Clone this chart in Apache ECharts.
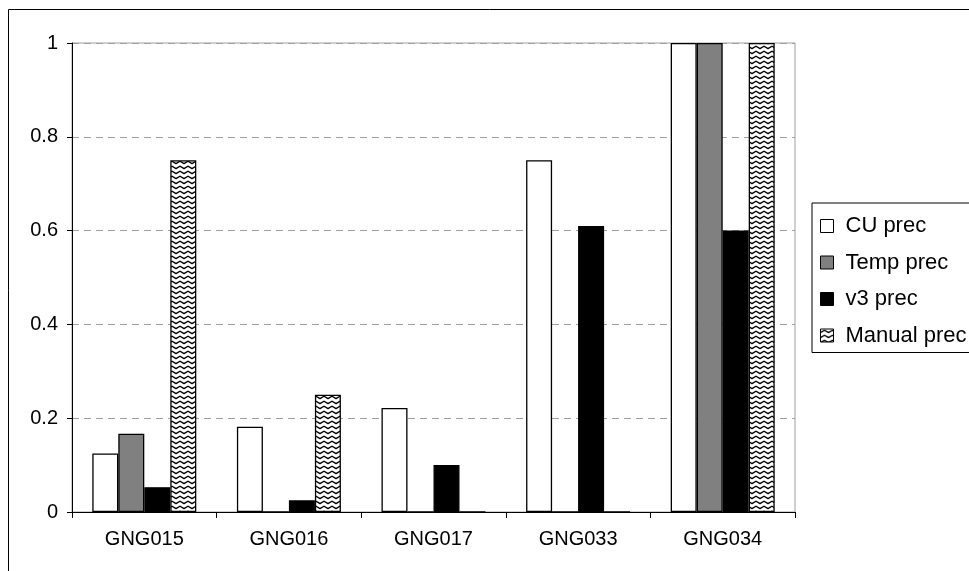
<!DOCTYPE html>
<html>
<head>
<meta charset="utf-8">
<script src="https://cdn.jsdelivr.net/npm/echarts@6/dist/echarts.min.js"></script>
<style>
  html, body { margin: 0; padding: 0; background: #fff; }
  #chart { width: 969px; height: 571px; }
</style>
</head>
<body>
<div id="chart"></div>
<script>
// Precision per gene set, four methods
const categories = ['GNG015', 'GNG016', 'GNG017', 'GNG033', 'GNG034'];
const cuPrec     = [0.125, 0.182, 0.222, 0.75, 1];
const tempPrec   = [0.167, 0, 0, 0, 1];
const v3Prec     = [0.053, 0.025, 0.1, 0.61, 0.6];
const manualPrec = [0.75, 0.25, 0, 0, 1];
const seriesNames = ['CU prec', 'Temp prec', 'v3 prec', 'Manual prec'];
const yTicks = [0, 0.2, 0.4, 0.6, 0.8, 1];

// Zigzag hatch tile for the manual series
function zigzagTile() {
  const c = document.createElement('canvas');
  c.width = 8; c.height = 5;
  const g = c.getContext('2d');
  g.fillStyle = '#fff';
  g.fillRect(0, 0, 8, 5);
  g.strokeStyle = '#000';
  g.lineWidth = 1.3;
  g.beginPath();
  g.moveTo(-1, 4.2);
  g.lineTo(0, 3.6);
  g.lineTo(4, 1.2);
  g.lineTo(8, 3.6);
  g.lineTo(9, 4.2);
  g.stroke();
  return c;
}
const hatch = { image: zigzagTile(), repeat: 'repeat' };

const fills = ['#ffffff', '#808080', '#000000', hatch];
const values = [cuPrec, tempPrec, v3Prec, manualPrec];

const chart = echarts.init(document.getElementById('chart'), null, { renderer: 'canvas' });

chart.setOption({
  animation: false,
  backgroundColor: '#fff',
  textStyle: { fontFamily: 'Liberation Sans, Arial, sans-serif', color: '#000' },
  graphic: [{
    type: 'rect',
    shape: { x: 8.5, y: 9.5, width: 1000, height: 600 },
    style: { fill: 'none', stroke: '#000', lineWidth: 1 },
    silent: true
  }],
  grid: {
    left: 72, right: 174, top: 43, bottom: 59,
    show: true, borderColor: '#a0a0a0', borderWidth: 1, backgroundColor: 'transparent'
  },
  legend: {
    orient: 'vertical',
    left: 812, top: 203,
    padding: [12, 20, 6, 8],
    itemGap: 14.5,
    itemWidth: 13, itemHeight: 13,
    icon: 'rect',
    borderColor: '#000', borderWidth: 1,
    backgroundColor: '#fff',
    data: seriesNames,
    itemStyle: { borderColor: '#000', borderWidth: 1 },
    textStyle: {
      fontFamily: 'Liberation Sans, Arial, sans-serif',
      fontSize: 22, lineHeight: 22, color: '#000',
      padding: [0, 0, 0, 7]
    }
  },
  xAxis: {
    type: 'category',
    data: categories,
    axisLine: { lineStyle: { color: '#000', width: 1 } },
    axisTick: { show: true, length: 6, lineStyle: { color: '#000' } },
    axisLabel: { fontSize: 20, color: '#000', margin: 17, fontFamily: 'Liberation Sans, Arial, sans-serif' }
  },
  yAxis: {
    type: 'value',
    min: yTicks[0], max: yTicks[yTicks.length - 1], interval: 0.2,
    axisLine: { show: true, lineStyle: { color: '#000', width: 1 } },
    axisTick: { show: true, length: 5, lineStyle: { color: '#000' } },
    axisLabel: { fontSize: 20, color: '#000', margin: 14, fontFamily: 'Liberation Sans, Arial, sans-serif' },
    splitLine: { show: true, lineStyle: { color: '#a0a0a0', type: [7, 5], width: 1 } }
  },
  series: seriesNames.map((name, i) => ({
    name,
    type: 'bar',
    data: values[i],
    barWidth: 26,
    barGap: '0%',
    itemStyle: { color: fills[i], borderColor: '#000', borderWidth: 1.3 }
  }))
});
</script>
</body>
</html>
